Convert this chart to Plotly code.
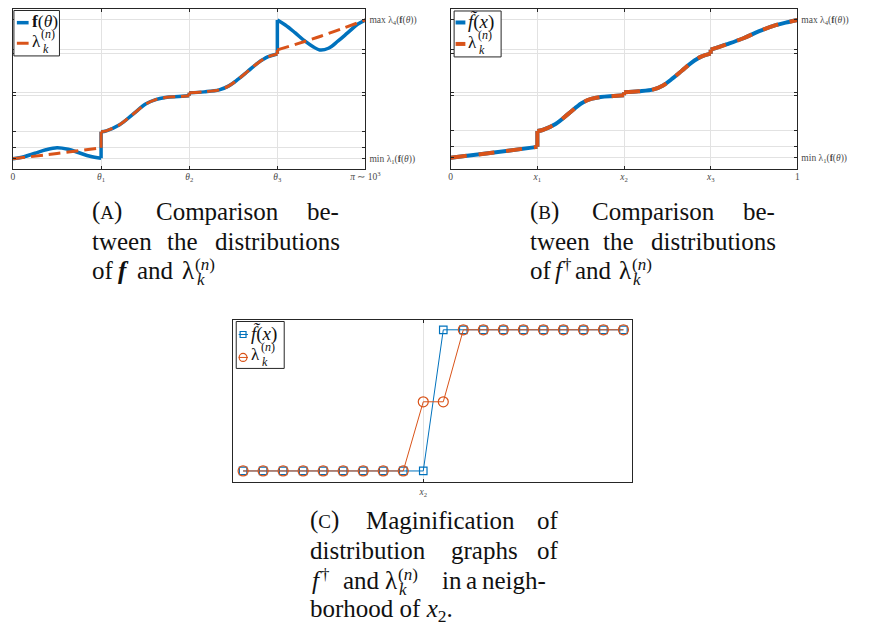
import math
import plotly.graph_objects as go

W, H = 870, 628
OFF = 8  # the page body margin shifts the figure by 8px; reference coordinates are page pixels
SERIF = "'Liberation Serif', 'Times New Roman', Times, serif"
BLUE = "#0072BD"
ORANGE = "#D95319"
AXC = "#262626"
GRID = "#e2e2e2"
TICKC = "#4a4a4a"

# ---------------- data ----------------
levels = [0, 11, 27, 63, 66, 105, 109, 139]          # band edges (y grid)
extreme_vals = [0, 139]
extreme_labels = ["min λ<sub>1</sub>(<b>f</b>(<i>θ</i>))", "max λ<sub>4</sub>(<b>f</b>(<i>θ</i>))"]

theta_ticks = [0, math.pi / 4, math.pi / 2, 3 * math.pi / 4, math.pi]
theta_labels = ["0", "<i>θ</i><sub>1</sub>", "<i>θ</i><sub>2</sub>",
                "<i>θ</i><sub>3</sub>", "<i>π</i> ∼ 10<sup>3</sup>"]

# f(theta) per interval [theta_i, theta_{i+1}]: (fraction of interval, value)
fA1_t = [0, 0.125, 0.25, 0.375, 0.5, 0.625, 0.75, 0.875, 1]
fA1_v = [0, 2, 5.5, 9, 11, 9.5, 6, 2.5, 0.5]
fA2_t = [0, 0.06, 0.21, 0.36, 0.51, 0.62, 0.73, 0.88, 1]
fA2_v = [27, 28, 34, 44.5, 55, 59.3, 61.3, 62.3, 63]
fA3_t = [0, 0.17, 0.34, 0.45, 0.56, 0.67, 0.78, 0.89, 1]
fA3_v = [66, 67, 69, 73, 80, 88, 96, 102, 105]
fA4_t = [0, 0.09, 0.2, 0.31, 0.41, 0.48, 0.58, 0.69, 0.8, 0.91, 1]
fA4_v = [139, 134, 126.3, 118, 112, 109, 110.7, 118, 126.3, 134.7, 139]

# lambda_k^(n) in panel A
lA1_t = [0, 0.5, 1]
lA1_v = [0, 5.3, 11]
lA2_t, lA2_v = fA2_t, fA2_v
lA3_t, lA3_v = fA3_t, fA3_v
lA4_t = [0, 0.5, 1]
lA4_v = [109, 123, 139]

# panel B: f dagger on [0,1]
x_ticks = [0, 0.25, 0.5, 0.75, 1]
x_labels = ["0", "<i>x</i><sub>1</sub>", "<i>x</i><sub>2</sub>", "<i>x</i><sub>3</sub>", "1"]
fB1_t = [0, 0.5, 1]
fB1_v = [0, 5.3, 11]
fB2_t, fB2_v = fA2_t, fA2_v
fB3_t, fB3_v = fA3_t, fA3_v
fB4_t = [0, 0.18, 0.37, 0.56, 0.75, 0.9, 1]
fB4_v = [109, 114.3, 120.3, 127.7, 133.7, 137, 139]

# panel C: magnification around x2
c_index = [0, 1, 2, 3, 4, 5, 6, 7, 8, 9, 10, 11, 12, 13, 14, 15, 16, 17, 18, 19]
c_f = [0, 0, 0, 0, 0, 0, 0, 0, 0, 0, 1, 1, 1, 1, 1, 1, 1, 1, 1, 1]
c_lam = [0, 0, 0, 0, 0, 0, 0, 0, 0, 0.49, 0.49, 1, 1, 1, 1, 1, 1, 1, 1, 1]
c_tick = [9]
c_tick_label = ["<i>x</i><sub>2</sub>"]


def build(starts, width, segs):
    xs, ys, jx, jy = [], [], [], []
    for i, (t, v) in enumerate(segs):
        xs += [starts[i] + f * width for f in t] + [None]
        ys += list(v) + [None]
        if i > 0:
            jx += [starts[i], starts[i], None]
            jy += [segs[i - 1][1][-1], v[0], None]
    return xs, ys, jx, jy


fig = go.Figure()

# ---- Panel A
segsA_f = [(fA1_t, fA1_v), (fA2_t, fA2_v), (fA3_t, fA3_v), (fA4_t, fA4_v)]
segsA_l = [(lA1_t, lA1_v), (lA2_t, lA2_v), (lA3_t, lA3_v), (lA4_t, lA4_v)]
xa, ya, jxa, jya = build(theta_ticks[:4], math.pi / 4, segsA_f)
fig.add_trace(go.Scatter(x=xa, y=ya, mode="lines", line=dict(color=BLUE, width=3.5, shape="spline"),
                         xaxis="x", yaxis="y"))
fig.add_trace(go.Scatter(x=jxa, y=jya, mode="lines", line=dict(color=BLUE, width=3.5),
                         xaxis="x", yaxis="y"))
xl, yl, jxl, jyl = build(theta_ticks[:4], math.pi / 4, segsA_l)
fig.add_trace(go.Scatter(x=xl, y=yl, mode="lines",
                         line=dict(color=ORANGE, width=3, shape="spline", dash="12px,6px"),
                         xaxis="x", yaxis="y"))
fig.add_trace(go.Scatter(x=jxl, y=jyl, mode="lines", line=dict(color=ORANGE, width=3),
                         xaxis="x", yaxis="y"))

# ---- Panel B
segsB = [(fB1_t, fB1_v), (fB2_t, fB2_v), (fB3_t, fB3_v), (fB4_t, fB4_v)]
xb, yb, jxb, jyb = build(x_ticks[:4], 0.25, segsB)
fig.add_trace(go.Scatter(x=xb, y=yb, mode="lines", line=dict(color=BLUE, width=4, shape="spline"),
                         xaxis="x2", yaxis="y2"))
fig.add_trace(go.Scatter(x=jxb, y=jyb, mode="lines", line=dict(color=BLUE, width=4),
                         xaxis="x2", yaxis="y2"))
fig.add_trace(go.Scatter(x=xb, y=yb, mode="lines",
                         line=dict(color=ORANGE, width=4, shape="spline", dash="16px,12px"),
                         xaxis="x2", yaxis="y2"))
fig.add_trace(go.Scatter(x=jxb, y=jyb, mode="lines", line=dict(color=ORANGE, width=4),
                         xaxis="x2", yaxis="y2"))

# ---- Panel C
fig.add_trace(go.Scatter(x=c_index, y=c_f, mode="lines+markers",
                         line=dict(color=BLUE, width=1),
                         marker=dict(symbol="square-open", size=7.5, color=BLUE, line=dict(width=1.2)),
                         xaxis="x3", yaxis="y3"))
fig.add_trace(go.Scatter(x=c_index, y=c_lam, mode="lines+markers",
                         line=dict(color=ORANGE, width=1),
                         marker=dict(symbol="circle-open", size=10, color=ORANGE, line=dict(width=1.2)),
                         xaxis="x3", yaxis="y3"))


def dx(x0, x1):
    return [max(0.0, (x0 - OFF) / W), min(1.0, (x1 - OFF) / W)]


def dy(top, bottom):
    return [max(0.0, 1 - (bottom - OFF) / H), min(1.0, 1 - (top - OFF) / H)]


TOP = 8.5
BOT = 168
rangeA = [158 - BOT, 158 - TOP]
rangeB = [(157 - BOT) / 0.993, (157 - TOP) / 0.993]

tickfont = dict(family=SERIF, size=9.5, color=TICKC)
base_axis = dict(showline=True, linecolor=AXC, linewidth=1, mirror="ticks", ticks="inside",
                 ticklen=3, tickcolor=AXC, gridcolor=GRID, gridwidth=1, zeroline=False,
                 tickfont=tickfont, fixedrange=True)
label_axis = dict(showline=False, showgrid=False, zeroline=False, ticks="", tickfont=tickfont,
                  side="right", tickvals=extreme_vals, ticktext=extreme_labels,
                  ticklabelstandoff=3, fixedrange=True)

fig.update_layout(
    width=W, height=H, margin=dict(l=0, r=0, t=0, b=0),
    paper_bgcolor="white", plot_bgcolor="white", showlegend=False,
    xaxis=dict(base_axis, domain=dx(11, 371), range=[0, math.pi], tickvals=theta_ticks,
               ticktext=theta_labels, anchor="y", ticklabelstandoff=-1),
    yaxis=dict(base_axis, domain=dy(TOP, BOT), range=rangeA, tickvals=levels,
               showticklabels=False, anchor="x"),
    yaxis4=dict(label_axis, overlaying="y", range=rangeA, anchor="x"),
    xaxis2=dict(base_axis, domain=dx(458, 812), range=[0, 1], tickvals=x_ticks,
                ticktext=x_labels, anchor="y2", ticklabelstandoff=-1),
    yaxis2=dict(base_axis, domain=dy(TOP, BOT), range=rangeB, tickvals=levels,
                showticklabels=False, anchor="x2"),
    yaxis5=dict(label_axis, overlaying="y2", range=rangeB, anchor="x2"),
    xaxis3=dict(base_axis, domain=dx(236, 643), range=[-0.49, 19.42], tickvals=c_tick,
                ticktext=c_tick_label, anchor="y3", ticklabelstandoff=0),
    yaxis3=dict(showline=True, linecolor=AXC, linewidth=1, mirror=True, ticks="",
                showticklabels=False, showgrid=False, zeroline=False,
                domain=dy(319, 482), range=[-0.08, 1.073], anchor="x3", fixedrange=True),
)
fig.add_trace(go.Scatter(x=[None], y=[None], xaxis="x", yaxis="y4", hoverinfo="skip"))
fig.add_trace(go.Scatter(x=[None], y=[None], xaxis="x2", yaxis="y5", hoverinfo="skip"))

annotations = []


def T(text, x, base, size=25, color="#111111"):
    yc = base - 0.34 * size
    annotations.append(dict(text=text, x=(x - OFF) / W, y=1 - (yc - OFF) / H,
                            xref="paper", yref="paper", xanchor="left", yanchor="middle",
                            showarrow=False, borderpad=0,
                            font=dict(family=SERIF, size=size, color=color)))


SC = "<span style='font-size:19px'>%s</span>"
SS = 17  # script size in captions
# caption A
T("(" + SC % "A" + ")", 91, 219); T("Comparison", 156, 219); T("be-", 310, 219)
T("tween", 91, 249); T("the", 167, 249); T("distributions", 216, 249)
T("of", 91, 278); T("<b><i>f</i></b>", 117, 278); T("and", 137, 278); T("λ", 183, 278)
T("(<i>n</i>)", 196, 270, SS); T("<i>k</i>", 197.5, 285, SS)
# caption B
T("(" + SC % "B" + ")", 538, 219); T("Comparison", 601, 219); T("be-", 755, 219)
T("tween", 538, 249); T("the", 613, 249); T("distributions", 662, 249)
T("of", 538, 278); T("<i>f</i>", 563, 278); T("†", 571.5, 270, SS); T("and", 584, 278)
T("λ", 629, 278); T("(<i>n</i>)", 642, 270, SS); T("<i>k</i>", 643.5, 285, SS)
# caption C
T("(" + SC % "C" + ")", 313, 528.5); T("Maginification", 371, 528.5); T("of", 545, 528.5)
T("distribution", 313, 558.5); T("graphs", 457, 558.5); T("of", 545, 558.5)
T("<i>f</i>", 315, 588.5); T("†", 324.5, 580.5, SS); T("and", 347, 588.5); T("λ", 390, 588.5)
T("(<i>n</i>)", 403, 580.5, SS); T("<i>k</i>", 404.5, 595.5, SS)
T("in", 448, 588.5); T("a", 473, 588.5); T("neigh-", 489, 588.5)
T("borhood of <i>x</i><sub>2</sub>.", 313, 619)

# legend texts
T("<b>f</b>(<i>θ</i>)", 29, 26.3, 17.5)
T("λ", 29, 46, 17); T("(<i>n</i>)", 39, 37, 12); T("<i>k</i>", 40.5, 52, 12)
T("<i>f̃</i>(<i>x</i>)", 474.5, 27, 19)
T("λ", 474.5, 47, 17); T("(<i>n</i>)", 484.5, 38, 12); T("<i>k</i>", 486, 53, 12)
T("<i>f̃</i>(<i>x</i>)", 253, 340, 19)
T("λ", 253, 360, 17); T("(<i>n</i>)", 263, 351, 12); T("<i>k</i>", 264.5, 366, 12)

shapes = []


def P(x, y):
    return (x - OFF) / W, 1 - (y - OFF) / H


def rect(x0, y0, x1, y1, color=AXC, width=1, fill="white"):
    a, b = P(x0, y1)
    c, d = P(x1, y0)
    shapes.append(dict(type="rect", xref="paper", yref="paper", x0=a, y0=b, x1=c, y1=d,
                       line=dict(color=color, width=width), fillcolor=fill))


def seg(x0, y0, x1, y1, color, width):
    a, b = P(x0, y0)
    c, d = P(x1, y1)
    shapes.append(dict(type="line", xref="paper", yref="paper", x0=a, y0=b, x1=c, y1=d,
                       line=dict(color=color, width=width)))


def circ(cx, cy, r, color):
    a, b = P(cx - r, cy + r)
    c, d = P(cx + r, cy - r)
    shapes.append(dict(type="circle", xref="paper", yref="paper", x0=a, y0=b, x1=c, y1=d,
                       line=dict(color=color, width=1.2)))


# legend A
rect(12, 9.5, 58.5, 55)
seg(15, 21.7, 27, 21.7, BLUE, 3.5)
seg(15, 42.3, 27, 42.3, ORANGE, 3)
# legend B
rect(461.5, 10, 509.5, 56)
seg(463, 21.5, 473, 21.5, BLUE, 4)
seg(463, 43, 473, 43, ORANGE, 4)
# legend C
rect(239, 321, 288, 368)
seg(241.5, 334, 251, 334, BLUE, 1)
rect(243, 331, 249, 337, color=BLUE, width=1.2, fill="rgba(0,0,0,0)")
seg(241.5, 357, 251, 357, ORANGE, 1)
circ(246, 357, 4, ORANGE)

fig.update_layout(annotations=annotations, shapes=shapes)
fig.write_html("out.html")
